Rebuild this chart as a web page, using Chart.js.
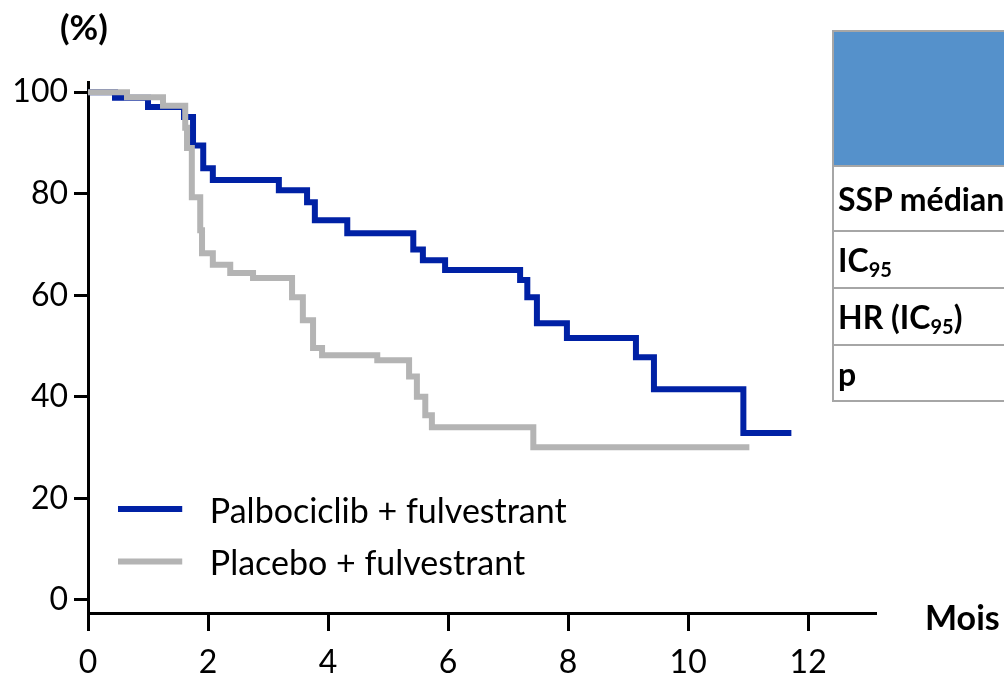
<!DOCTYPE html>
<html>
<head>
<meta charset="utf-8">
<script src="https://cdn.jsdelivr.net/npm/chart.js@4.4.1/dist/chart.umd.min.js"></script>
<style>
  html, body { margin: 0; padding: 0; background: #fff; }
  #wrap { position: relative; width: 1004px; height: 678px; overflow: hidden; font-family: Lato, "Open Sans", sans-serif; }
  #c { position: absolute; left: 0; top: 0; }
  .lbl { position: absolute; font-weight: bold; color: #000; white-space: nowrap; line-height: 1; }
  #tbl { position: absolute; left: 832px; top: 30px; width: 220px; border-left: 2px solid #A6A6A6; border-top: 2px solid #A6A6A6; }
  #tbl .hd { height: 133px; background: #5591CB; border-bottom: 2px solid #A6A6A6; }
  #tbl .row { border-bottom: 2px solid #A6A6A6; font-weight: bold; font-size: 32px; color: #000; padding-left: 4px; box-sizing: border-box; display: flex; align-items: center; white-space: nowrap; }
  #tbl .sb { font-size: 20px; font-style: normal; font-weight: bold; position: relative; top: 9px; }
</style>
</head>
<body>
<div id="wrap">
  <canvas id="c" width="1004" height="678"></canvas>
  <div class="lbl" style="left:60px; top:9px; font-size:35px;">(%)</div>
  <div class="lbl" style="left:925px; top:600px; font-size:34px;">Mois</div>
  <div id="tbl">
    <div class="hd"></div>
    <div class="row" style="height:65px;">SSP médian</div>
    <div class="row" style="height:57px;">IC<span class="sb">95</span></div>
    <div class="row" style="height:57px;">HR (IC<span class="sb">95</span>)</div>
    <div class="row" style="height:56px;">p</div>
  </div>
</div>
<script>
// ---- data (months, % progression-free) ----
const palboTimes = [0, 0.45, 1.0, 1.6, 1.75, 1.92, 2.08, 3.18, 3.65, 3.78, 4.32, 5.42, 5.58, 5.95, 7.2, 7.32, 7.48, 7.98, 9.13, 9.43, 10.92, 11.72];
const palboSurv  = [100, 98.9, 97.1, 95.1, 89.5, 85.0, 82.7, 80.7, 78.3, 74.8, 72.2, 69.0, 66.9, 65.0, 63.0, 59.6, 54.5, 51.6, 47.8, 41.5, 32.9, 32.9];
const placeboTimes = [0, 0.65, 1.25, 1.62, 1.65, 1.73, 1.87, 1.90, 2.08, 2.37, 2.75, 3.4, 3.58, 3.75, 3.9, 4.82, 5.35, 5.48, 5.62, 5.73, 7.42, 11.02];
const placeboSurv  = [100, 99.0, 97.3, 93.0, 89.0, 79.3, 72.8, 68.3, 66.0, 64.4, 63.4, 59.6, 55.1, 49.6, 48.2, 47.2, 44.0, 40.0, 36.4, 34.0, 30.1, 30.1];
const seriesLabels = ["Palbociclib + fulvestrant", "Placebo + fulvestrant"];
const xTicks = [0, 2, 4, 6, 8, 10, 12];
const yTicks = [0, 20, 40, 60, 80, 100];

const BLUE = '#0021A5';
const GREY = '#B4B4B4';
const FONT = 'Lato, "Open Sans", sans-serif';

function pts(t, s) { return t.map((x, i) => ({ x: x, y: s[i] })); }

const legendPlugin = {
  id: 'inlineLegend',
  afterDraw(chart) {
    const ctx = chart.ctx;
    const xs = chart.scales.x, ys = chart.scales.y;
    const items = [chart.data.datasets[1], chart.data.datasets[0]];
    const x0 = xs.getPixelForValue(0.5), x1 = xs.getPixelForValue(1.57), tx = xs.getPixelForValue(2.03);
    const rowsY = [ys.getPixelForValue(17.9), ys.getPixelForValue(7.6)];
    ctx.save();
    items.forEach((ds, i) => {
      ctx.strokeStyle = ds.borderColor;
      ctx.lineWidth = 6;
      ctx.beginPath();
      ctx.moveTo(x0, rowsY[i]);
      ctx.lineTo(x1, rowsY[i]);
      ctx.stroke();
      ctx.fillStyle = '#000';
      ctx.font = '34px ' + FONT;
      ctx.textBaseline = 'middle';
      ctx.textAlign = 'left';
      ctx.fillText(ds.label, tx, rowsY[i] + 3);
    });
    ctx.restore();
  }
};

function build() {
  new Chart(document.getElementById('c'), {
    type: 'line',
    data: {
      datasets: [
        { label: seriesLabels[1], data: pts(placeboTimes, placeboSurv), borderColor: GREY, borderWidth: 6, stepped: true, pointRadius: 0, fill: false, order: 0 },
        { label: seriesLabels[0], data: pts(palboTimes, palboSurv), borderColor: BLUE, borderWidth: 6, stepped: true, pointRadius: 0, fill: false, order: 1 }
      ]
    },
    options: {
      responsive: false,
      animation: false,
      devicePixelRatio: 1,
      layout: { padding: { top: 82, right: 128, left: 0, bottom: 0 } },
      plugins: { legend: { display: false }, tooltip: { enabled: false } },
      scales: {
        x: {
          type: 'linear', min: 0, max: 13.13,
          afterFit(s) { s.height = 65; },
          afterBuildTicks(s) { s.ticks = xTicks.map(v => ({ value: v })); },
          border: { display: true, color: '#000', width: 3 },
          grid: { display: true, drawOnChartArea: false, drawTicks: true, tickLength: 18, tickWidth: 3, tickColor: '#000' },
          ticks: { color: '#000', padding: 12, maxRotation: 0, autoSkip: false, font: { family: FONT, size: 32 } }
        },
        y: {
          type: 'linear', min: -2.56, max: 102,
          afterFit(s) { s.width = 88; },
          afterBuildTicks(s) { s.ticks = yTicks.map(v => ({ value: v })); },
          border: { display: true, color: '#000', width: 3 },
          grid: { display: true, drawOnChartArea: false, drawTicks: true, tickLength: 14, tickWidth: 3, tickColor: '#000' },
          ticks: { color: '#000', padding: 6, autoSkip: false, font: { family: FONT, size: 32 } }
        }
      }
    },
    plugins: [legendPlugin]
  });
}
if (document.fonts && document.fonts.load) {
  Promise.all([document.fonts.load('32px Lato'), document.fonts.load('bold 32px Lato')]).then(build, build);
} else { build(); }
</script>
</body>
</html>
